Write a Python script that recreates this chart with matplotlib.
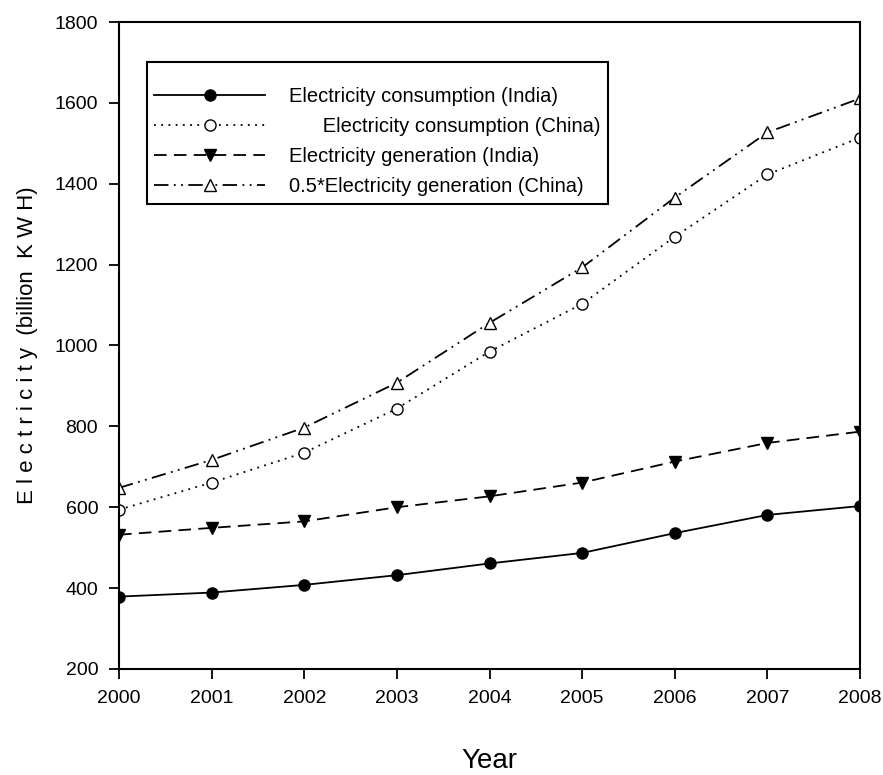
import matplotlib.pyplot as plt
from matplotlib import font_manager

years = [2000, 2001, 2002, 2003, 2004, 2005, 2006, 2007, 2008]
india_consumption = [379, 389, 408, 432, 461, 487, 536, 581, 603]
china_consumption = [594, 661, 735, 844, 985, 1103, 1269, 1423, 1514]
india_generation = [532, 549, 565, 600, 627, 661, 713, 759, 787]
china_generation_half = [648, 717, 797, 908, 1056, 1193, 1366, 1527, 1611]

yticks = [200, 400, 600, 800, 1000, 1200, 1400, 1600, 1800]

# schmale Schrift, falls vorhanden
names = {f.name for f in font_manager.fontManager.ttflist}
font = 'Liberation Sans Narrow' if 'Liberation Sans Narrow' in names else 'Liberation Sans'
plt.rcParams['font.family'] = [font, 'DejaVu Sans']

fig = plt.figure(figsize=(8.83, 7.75), dpi=100)
ax = fig.add_axes([0.1348, 0.1368, 0.8392, 0.8348])

ax.plot(years, india_consumption, color='black', linestyle='-', linewidth=1.3,
        marker='o', markersize=8, markerfacecolor='black',
        label='Electricity consumption (India)')
ax.plot(years, china_consumption, color='black', linestyle=(0, (1, 3)), linewidth=1.3,
        marker='o', markersize=8, markerfacecolor='white',
        label='      Electricity consumption (China)')
ax.plot(years, india_generation, color='black', linestyle=(0, (7, 4)), linewidth=1.3,
        marker='v', markersize=9, markerfacecolor='black',
        label='Electricity generation (India)')
ax.plot(years, china_generation_half, color='black', linestyle=(0, (8, 3, 1, 3, 1, 3)),
        linewidth=1.3, marker='^', markersize=9, markerfacecolor='white',
        label='0.5*Electricity generation (China)')

ax.set_xlim(2000, 2008)
ax.set_ylim(200, 1800)
ax.set_xticks(years)
ax.set_yticks(yticks)
ax.tick_params(direction='out', length=7, width=1.3, labelsize=14, pad=8)
for s in ax.spines.values():
    s.set_linewidth(1.5)

ax.set_xlabel('Year', fontsize=20, labelpad=30)
ax.set_ylabel('E l e c t r i c i t y  (billion  K W H)', fontsize=16, labelpad=12)

# leerer Titel sorgt für den Abstand oben in der Legende
leg = ax.legend(loc='upper left', bbox_to_anchor=(0.038, 0.938), fontsize=14.5,
                title=' ', title_fontsize=6,
                handlelength=5.5, handletextpad=1.2, labelspacing=0.55,
                borderpad=0.35, borderaxespad=0, fancybox=False,
                edgecolor='black', framealpha=1)
leg.get_frame().set_linewidth(1.5)

fig.savefig('out.png', dpi=100)
